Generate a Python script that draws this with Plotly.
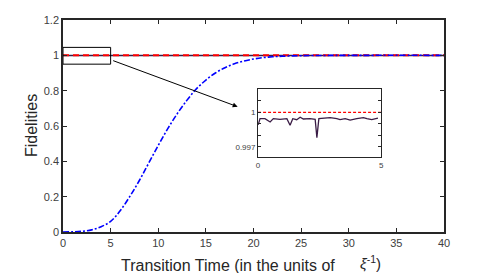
import plotly.graph_objects as go

# ---- data ----
t_fid = [0.0, 0.01, 0.08, 0.28, 0.49, 0.62, 0.89, 1.17, 1.30, 1.41, 1.57, 1.71, 1.84, 2.11, 2.32, 2.39, 2.47,
         2.65, 2.93, 3.2, 3.33, 3.54, 3.74, 4.01, 4.28, 4.42, 4.62, 4.87, 5.0, 10, 15, 20, 25, 30, 35, 40]
fid = [0.99896, 0.99896, 0.99945, 0.99945, 0.99916, 0.99945, 0.99939, 0.99945, 0.99887, 0.99945, 0.99936,
       0.99957, 0.99942, 0.99945, 0.99939, 0.9978, 0.99945, 0.9995, 0.99954, 0.99945, 0.99936, 0.99945,
       0.99933, 0.99945, 0.99954, 0.99945, 0.99937, 0.9995, 0.9995, 0.9995, 0.9995, 0.9995, 0.9995, 0.9995,
       0.9995, 0.9995]
t_inset = [t for t in t_fid if t <= 4.87]
fid_inset = fid[:len(t_inset)]

t_ref = [0, 40]
ref = [1.0, 1.0]
t_ref_inset = [0, 5]

t_adi = [0, 1, 2, 3, 4, 5, 6, 7, 8, 9, 10, 11, 12, 13, 14, 15, 16, 17, 18, 19, 20, 21, 22, 23, 25, 28, 32, 40]
adi = [0, 0.001, 0.004, 0.012, 0.03, 0.06, 0.12, 0.2, 0.29, 0.39, 0.49, 0.585, 0.67, 0.745, 0.81, 0.86, 0.9,
       0.93, 0.952, 0.968, 0.979, 0.987, 0.992, 0.995, 0.998, 0.9995, 1.0, 1.0]

x_ticks = [0, 5, 10, 15, 20, 25, 30, 35, 40]
y_ticks = [0, 0.2, 0.4, 0.6, 0.8, 1, 1.2]
y_tick_text = ["0", "0.2", "0.4", "0.6", "0.8", "1", "1.2"]
inset_y_ticks = [0.997, 0.998, 0.999, 1.0, 1.001]
inset_y_text = ["0.997", "", "", "1", ""]

FONT = "Liberation Sans, Arial, sans-serif"
AX = "#262626"
PURPLE = "#3a1c45"

fig = go.Figure()
fig.add_trace(go.Scatter(x=t_fid, y=fid, mode="lines", line=dict(color=PURPLE, width=1.5), showlegend=False))
fig.add_trace(go.Scatter(x=t_ref, y=ref, mode="lines", line=dict(color="#ff0000", width=2, dash="6px,4px"), showlegend=False))
fig.add_trace(go.Scatter(x=t_adi, y=adi, mode="lines", line=dict(color="#0000ff", width=1.6, dash="6px,2px,2px,2px"),
                         line_shape="spline", showlegend=False))

# inset
fig.add_trace(go.Scatter(x=t_inset, y=fid_inset, mode="lines", line=dict(color=PURPLE, width=1.3),
                         xaxis="x2", yaxis="y2", showlegend=False))
fig.add_trace(go.Scatter(x=t_ref_inset, y=ref, mode="lines", line=dict(color="#ff0000", width=1.2, dash="3px,2px"),
                         xaxis="x2", yaxis="y2", showlegend=False))

axis_common = dict(showline=True, linecolor=AX, mirror="ticks", ticks="inside", tickcolor=AX,
                   showgrid=False, zeroline=False)

fig.update_layout(
    width=491, height=273,
    margin=dict(l=63, r=47, t=20, b=41),
    paper_bgcolor="white", plot_bgcolor="white",
    font=dict(family=FONT, color="#404040"),
    xaxis=dict(range=[0, 40], tickvals=x_ticks, ticklen=4, linewidth=1.5, tickwidth=1.2,
               tickfont=dict(size=11), **axis_common),
    yaxis=dict(range=[0, 1.2], tickvals=y_ticks, ticktext=y_tick_text, ticklen=4, linewidth=1.5, tickwidth=1.2,
               tickfont=dict(size=11), **axis_common),
    xaxis2=dict(domain=[0.512, 0.835], anchor="y2", range=[0, 5], tickvals=[0, 5], ticklen=3, linewidth=1,
                tickwidth=1, tickfont=dict(size=8), **axis_common),
    yaxis2=dict(domain=[0.352, 0.6745], anchor="x2", range=[0.99608, 1.00203], tickvals=inset_y_ticks,
                ticktext=inset_y_text, ticklen=3, linewidth=1, tickwidth=1, tickfont=dict(size=8), **axis_common),
    shapes=[dict(type="rect", xref="x", yref="y", x0=0, x1=5, y0=0.95, y1=1.045,
                 line=dict(color="black", width=1))],
    annotations=[
        dict(x=18.34, y=0.709, xref="x", yref="y", ax=5.11, ay=0.973, axref="x", ayref="y",
             showarrow=True, arrowhead=2, arrowsize=1, arrowwidth=1, arrowcolor="black", text=""),
        dict(x=28.77, y=0, xref="x", yref="paper", yshift=-33, xanchor="right", yanchor="middle",
             showarrow=False, text="Transition Time (in the units of",
             font=dict(size=16, color="#262626")),
        dict(x=31.0, y=0, xref="x", yref="paper", yshift=-30, xanchor="left", yanchor="middle",
             showarrow=False, text="<i>ξ</i><sup>-1</sup>)",
             font=dict(size=15, color="#262626")),
        dict(x=0, y=0.5, xref="paper", yref="paper", xshift=-32, textangle=-90, xanchor="center",
             yanchor="middle", showarrow=False, text="Fidelities", font=dict(size=16, color="#262626")),
    ],
)

fig.write_html("out.html", config={"displayModeBar": False},
               post_script="document.body.style.margin='0';document.body.style.padding='0';")
